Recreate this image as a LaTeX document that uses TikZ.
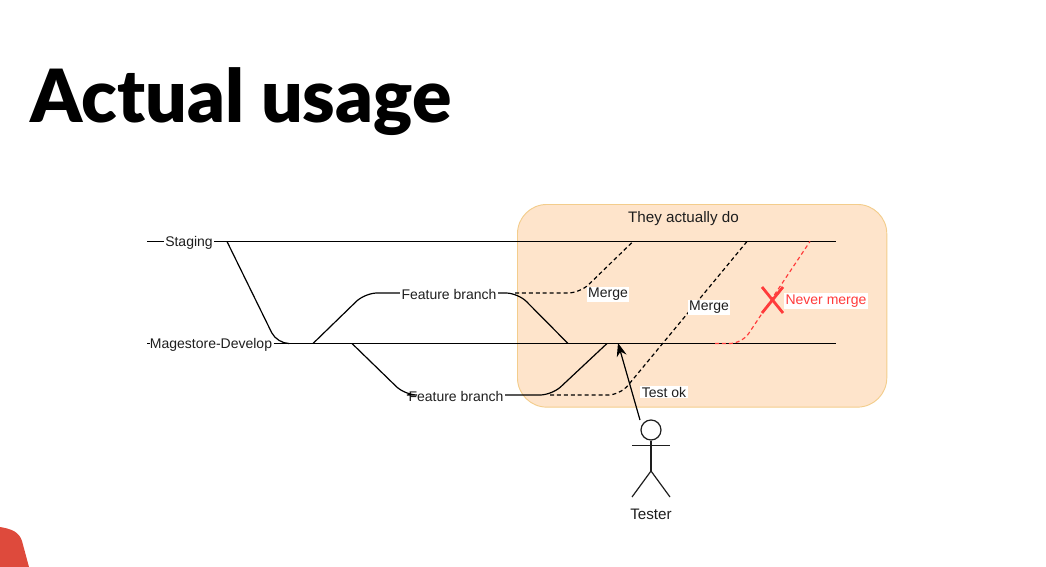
\documentclass[tikz,border=0pt]{standalone}
\usepackage{fontspec}
\setmainfont{Liberation Sans}
\newfontfamily\titlefont{Lato Black}
\usetikzlibrary{arrows.meta,positioning,calc}
\definecolor{inkdark}{HTML}{1E1E1E}
\definecolor{boxfill}{HTML}{FEE4CB}
\definecolor{boxedge}{HTML}{F3CD8C}
\definecolor{nevermerge}{HTML}{FF3B3B}
\definecolor{cornerred}{HTML}{DE4A3C}

\begin{document}
\begin{tikzpicture}[
  x=0.75pt, y=-0.75pt,
  linenode/.style={font=\fontsize{10.5pt}{12pt}\selectfont, text=inkdark, inner sep=1pt},
  bignode/.style={linenode, font=\fontsize{11.4pt}{13pt}\selectfont},
  tagnode/.style={linenode, fill=white, inner sep=1pt},
  redtag/.style={tagnode, text=nevermerge},
  mainline/.style={line width=0.9pt, draw=black},
  curveline/.style={mainline, rounded corners=9pt},
  mergeline/.style={curveline, dashed, dash pattern=on 3pt off 2.2pt},
  crossline/.style={draw=nevermerge, line width=2.1pt},
  actor/.style={line width=0.9pt, draw=inkdark}
]
\useasboundingbox (0,0) rectangle (1046,567);

% Slide title and the red corner of the template
\node[anchor=base west, inner sep=0pt, font=\titlefont\fontsize{55pt}{60pt}\selectfont] (title) at (30,122.5) {Actual usage};
\fill[cornerred] (0,527) .. controls (12,529) and (19,532) .. (22,541) -- (29,567) -- (0,567) -- cycle;

% Highlighted area
\node[draw=boxedge, fill=boxfill, line width=0.7pt, rounded corners=22pt, minimum width=277pt, minimum height=152pt,
  inner sep=0pt, anchor=north west] (usagebox) at (517,204) {};
\node[bignode, below=4.5pt of usagebox.north, xshift=-14pt] (usagetitle) {They actually do};

% Long lived lines
\node[linenode] (staging) at (189,243) {Staging};
\node[linenode] (develop) at (211,345) {Magestore-Develop};
\coordinate (stagingL) at (147,241.5);
\coordinate (stagingR) at (836,241.5);
\coordinate (developL) at (147,343.5);
\coordinate (developR) at (836,343.5);
\draw[mainline] (stagingL) -- (stagingL -| staging.west);
\draw[mainline] (stagingR -| staging.east) -- (stagingR);
\draw[mainline] (developL) -- ([xshift=1pt]develop.west |- developL);
\draw[mainline] (developR -| develop.east) -- (developR);

% Staging back to develop
\coordinate (stagingdrop) at (227,241.5);
\draw[curveline] (stagingdrop) -- (277,343.5) -- (288,343.5);

% Feature branches
\node[linenode] (featureA) at (449,294) {Feature branch};
\node[linenode] (featureB) at (456,396) {Feature branch};
\coordinate (featureAstart) at (313,343.5);
\coordinate (featureBstart) at (352,343.5);
\coordinate (featureAend) at (568,343.5);
\coordinate (featureBend) at (607,343.5);
\draw[curveline] (featureAstart) -- (365,293) -- (featureA.west |- 0,293);
\draw[curveline] (featureBstart) -- (405,395) -- (featureB.west |- 0,395);
\draw[curveline] (featureA.east |- 0,293) -- (518,293) -- (featureAend);
\draw[curveline] (featureB.east |- 0,395) -- (552,395) -- (featureBend);

% Merges
\coordinate (mergeAtop) at (633,241.5);
\coordinate (mergeBtop) at (747,241.5);
\coordinate (neverstart) at (715,343.5);
\coordinate (nevertop) at (810,241.5);
\draw[mergeline] (515,293) -- (580,293) -- (mergeAtop);
\draw[mergeline] (550,395) -- (620,395) -- (mergeBtop);
\draw[mergeline, draw=nevermerge] (neverstart) -- (742,343.5) -- (nevertop);
\node[tagnode] (mergeA) at (608,294.5) {Merge};
\node[tagnode] (mergeB) at (709,307.5) {Merge};
\node[tagnode] (testok) at (664,392) {Test ok};
\node[redtag] (never) at (826,301) {Never merge};
\draw[crossline] (762,287) -- (783,313);
\draw[crossline] (783,287) -- (762,313);

% Tester figure
\node[circle, actor, minimum size=15pt, inner sep=0pt] (head) at (651,430) {};
\coordinate (hip) at (651,471);
\draw[actor] (head.south) -- (hip);
\draw[actor] (632,445.5) -- (670,445.5);
\draw[actor] (632,497) -- (hip) -- (670,497);
\node[bignode] (tester) at (651,514) {Tester};
\coordinate (testeye) at (618,343);
\coordinate (testfoot) at (640,420);
\draw[mainline, -{Stealth[length=10pt,width=7.5pt]}] (testfoot) -- (testeye);
\end{tikzpicture}
\end{document}
